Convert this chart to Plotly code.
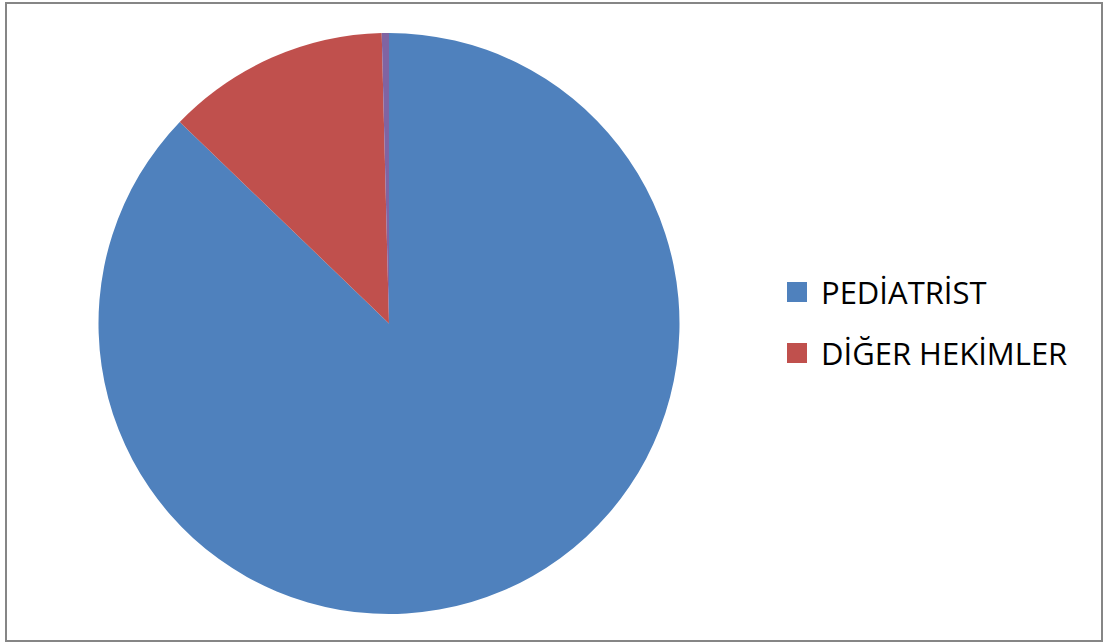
import plotly.graph_objects as go

labels = ["PEDİATRİST", "DİĞER HEKİMLER", "DİĞER"]
values = [87.2, 12.4, 0.4]
colors = ["#4F81BD", "#C0504D", "#8064A2"]
legend_labels = ["PEDİATRİST", "DİĞER HEKİMLER"]

W, H = 1105, 643

fig = go.Figure()
fig.add_trace(go.Pie(
    labels=labels, values=values, sort=False, direction="clockwise", rotation=0,
    marker=dict(colors=colors, line=dict(width=0)),
    textinfo="none", hoverinfo="label+value", showlegend=False,
    domain=dict(x=[98 / W, 680 / W], y=[(H - 614) / H, (H - 33) / H]),
))

shapes = [dict(type="rect", xref="paper", yref="paper",
               x0=6 / W, x1=1102 / W, y0=(H - 641) / H, y1=(H - 3) / H,
               line=dict(color="#868686", width=2), fillcolor="rgba(0,0,0,0)")]
annotations = []
ys = [292, 353]
for lab, col, yc in zip(legend_labels, colors[:2], ys):
    shapes.append(dict(type="rect", xref="paper", yref="paper",
                       x0=787 / W, x1=807 / W, y0=(H - yc - 10) / H, y1=(H - yc + 10) / H,
                       line=dict(width=0), fillcolor=col))
    annotations.append(dict(x=819 / W, y=(H - yc) / H, xref="paper", yref="paper",
                            text=lab, showarrow=False, xanchor="left", yanchor="middle",
                            font=dict(family="Open Sans", size=31, color="#000000")))

fig.update_layout(
    width=W, height=H, margin=dict(l=0, r=0, t=0, b=0),
    paper_bgcolor="white", plot_bgcolor="white",
    shapes=shapes, annotations=annotations,
)
fig.write_html("out.html")
